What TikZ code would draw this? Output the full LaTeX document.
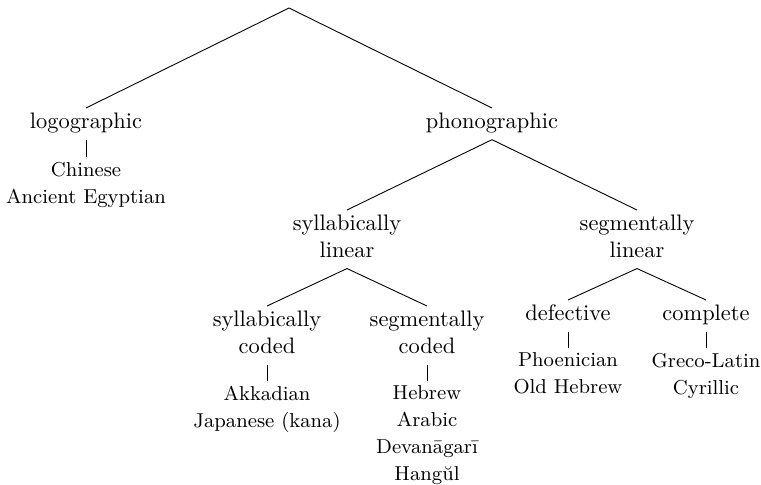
\documentclass[tikz,border=0pt]{standalone}
\newcommand\lowend{\rule[-2.8pt]{0pt}{2.8pt}}
\begin{document}
\begin{tikzpicture}[x=0.4464pt,y=-0.4464pt,
  lab/.style={anchor=north,align=center,inner sep=2pt,font=\normalsize},
  leaf/.style={anchor=north,align=center,inner sep=2pt,font={\small\baselineskip=12pt}},
  edge/.style={draw,line width=0.4pt}]
\useasboundingbox (0,0) rectangle (761,485);
\coordinate (root) at (289,8);
\node[lab] (logo) at (86,108) {logographic\lowend};
\node[lab] (phono) at (492,108) {phonographic\lowend};
\node[leaf] (chin) at (86,157) {Chinese\\Ancient Egyptian};
\node[lab] (sl) at (347,210) {syllabically\\linear\lowend};
\node[lab] (gl) at (637,210) {segmentally\\linear\lowend};
\node[lab] (sc) at (267,306) {syllabically\\coded\lowend};
\node[lab] (gc) at (427,306) {segmentally\\coded\lowend};
\node[lab] (def) at (568,300) {defective\lowend};
\node[lab] (comp) at (706,300) {complete\lowend};
\node[leaf] (akk) at (267,381) {Akkadian\\Japanese (kana)};
\node[leaf] (heb) at (427,381) {Hebrew\\Arabic\\Devanāgarī\\Hangŭl};
\node[leaf] (phoe) at (568,348) {Phoenician\\Old Hebrew};
\node[leaf] (grec) at (706,348) {Greco-Latin\\Cyrillic};
\draw[edge] (root) -- (logo.north);
\draw[edge] (root) -- (phono.north);
\draw[edge] (logo.south) -- (chin.north);
\draw[edge] (phono.south) -- (sl.north);
\draw[edge] (phono.south) -- (gl.north);
\draw[edge] (sl.south) -- (sc.north);
\draw[edge] (sl.south) -- (gc.north);
\draw[edge] (gl.south) -- (def.north);
\draw[edge] (gl.south) -- (comp.north);
\draw[edge] (sc.south) -- (akk.north);
\draw[edge] (gc.south) -- (heb.north);
\draw[edge] (def.south) -- (phoe.north);
\draw[edge] (comp.south) -- (grec.north);
\end{tikzpicture}
\end{document}
